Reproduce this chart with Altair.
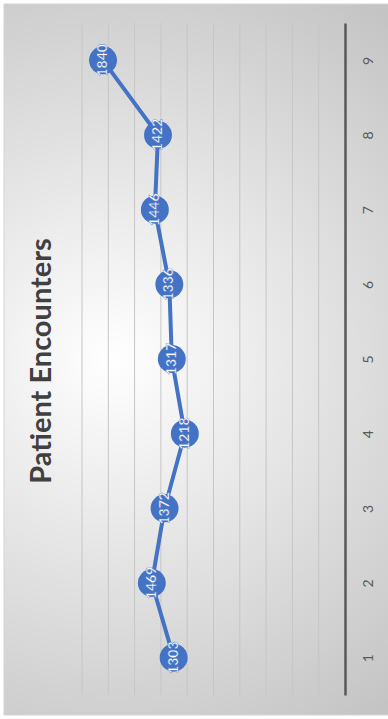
import altair as alt
import pandas as pd

# ---- data ----
categories = [1, 2, 3, 4, 5, 6, 7, 8, 9]
encounters = [1303, 1469, 1372, 1218, 1317, 1336, 1446, 1422, 1840]
grid_values = [0, 200, 400, 600, 800, 1000, 1200, 1400, 1600, 1800, 2000]
title_text = ["Patient Encounters"]

df = pd.DataFrame({"cat": categories, "value": encounters})
grid_df = pd.DataFrame({"g": grid_values})
title_df = pd.DataFrame({"t": title_text})

W, H = 263, 672
BLUE = "#4472C4"

x_scale = alt.Scale(domain=[0, 2000], reverse=True, nice=False)
y_scale = alt.Scale(type="point", padding=0.5)
y_sort = "descending"

gradient = alt.RadialGradient(
    gradient="radial",
    x1=0.38, y1=0.5, r1=0,
    x2=0.38, y2=0.5, r2=0.62,
    stops=[
        alt.GradientStop(offset=0, color="#ffffff"),
        alt.GradientStop(offset=1, color="#c4c4c4"),
    ],
)

background = alt.Chart(pd.DataFrame({"a": [0]})).mark_rect(
    fill=gradient, stroke="#d4d4d4", strokeWidth=1
).encode(
    x=alt.value(-78), x2=alt.value(W + 45),
    y=alt.value(-19), y2=alt.value(H + 20),
)

grid = alt.Chart(grid_df).mark_rule(color="#c6c6c6", strokeWidth=1).encode(
    x=alt.X("g:Q", scale=x_scale,
            axis=alt.Axis(labels=False, ticks=False, domain=False, grid=False, title=None)),
    y=alt.value(0), y2=alt.value(H),
)

title = alt.Chart(title_df).mark_text(
    angle=270, font="Lato", fontSize=29, fontWeight="bold", color="#404040",
    align="center", baseline="middle"
).encode(text="t:N", x=alt.value(-40), y=alt.value(H / 2 + 2))

base = alt.Chart(df).encode(
    x=alt.X("value:Q", scale=x_scale),
    y=alt.Y("cat:O", scale=y_scale, sort=y_sort,
            axis=alt.Axis(orient="right", title=None, ticks=False, tickSize=0,
                          domainColor="#595959", domainWidth=2.5,
                          labelAngle=270, labelAlign="center", labelBaseline="middle",
                          labelPadding=23, labelFontSize=14, labelFont="Lato",
                          labelColor="#595959", grid=False, zindex=1)),
)

line = base.mark_line(color=BLUE, strokeWidth=4).encode(order=alt.Order("cat:Q"))
points = base.mark_circle(size=780, color=BLUE, opacity=1)
labels = base.mark_text(angle=270, color="white", fontSize=14, font="Lato",
                        fontWeight="bold", align="center", baseline="middle",
                        stroke=BLUE, strokeWidth=0.4).encode(
    text=alt.Text("value:Q")
)

chart = alt.layer(background, grid, title, line, points, labels).properties(
    width=W, height=H,
    autosize=alt.AutoSizeParams(type="none"),
    padding={"left": 82, "top": 23, "right": 43, "bottom": 24},
    background="white",
).configure_view(stroke=None)

chart.save("out.html", embed_options={"renderer": "svg", "actions": False})
